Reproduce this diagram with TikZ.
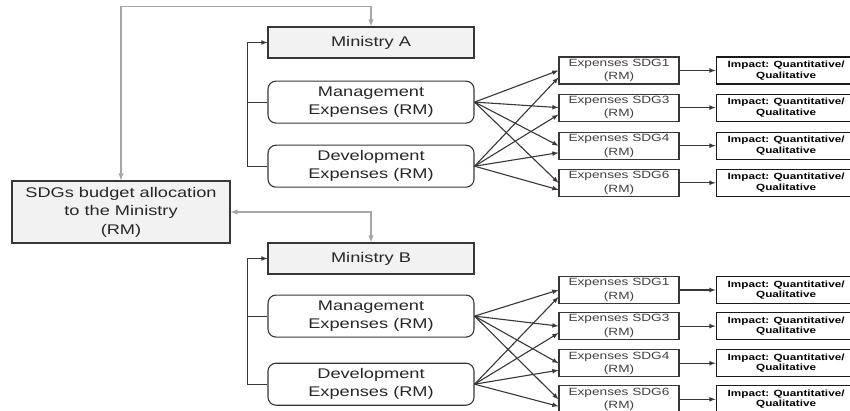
\documentclass[tikz,border=0pt]{standalone}
\usepackage{fontspec}
\setmainfont{Liberation Sans}[FakeStretch=1.3]
\usepackage{tikz}
\usetikzlibrary{arrows,positioning,calc}
\definecolor{boxline}{HTML}{3A3536}
\definecolor{boxfill}{HTML}{F2F2F2}
\definecolor{feedline}{HTML}{A6A6A6}

\begin{document}
\begin{tikzpicture}[x=1pt, y=1pt,
  ministry/.style={draw=boxline, fill=boxfill, line width=1.1pt, minimum width=206pt, minimum height=31pt, inner sep=0pt, align=center, text=black!85, font=\fontsize{14}{18.5}\selectfont},
  expense/.style={draw=boxline, line width=1.1pt, rounded corners=8pt, minimum width=206pt, minimum height=42pt, inner sep=0pt, align=center, text=black!85, font=\fontsize{14}{18}\selectfont},
  sdgbox/.style={draw=boxline, line width=1.1pt, minimum width=120pt, minimum height=27pt, inner sep=0pt, align=center, text=black!75, font=\fontsize{10.5}{13.5}\selectfont},
  impact/.style={draw=black!90, line width=1.1pt, minimum width=140pt, minimum height=27pt, inner sep=0pt, align=center, font=\bfseries\fontsize{9}{10.5}\selectfont},
  link/.style={draw=boxline, line width=1.1pt},
  feed/.style={draw=feedline, line width=1.4pt}]
\useasboundingbox (0,0) rectangle (850,-411);

\node [ministry, minimum width=218pt, minimum height=62pt] (alloc) at (121,-212) {SDGs budget allocation\\to the Ministry\\(RM)};

\node [ministry] (minA) at (371,-42.5) {Ministry A};
\node [expense] (manA) [below=22pt of minA] {Management\\Expenses (RM)};
\node [expense] (devA) [below=21pt of manA] {Development\\Expenses (RM)};
\node [sdgbox] (sdgA1) at (619,-70.5) {Expenses SDG1\\(RM)};
\node [sdgbox] (sdgA3) [below=9pt of sdgA1] {Expenses SDG3\\(RM)};
\node [sdgbox] (sdgA4) [below=10pt of sdgA3] {Expenses SDG4\\(RM)};
\node [sdgbox] (sdgA6) [below=9pt of sdgA4] {Expenses SDG6\\(RM)};
\node [impact] (impA1) [right=36pt of sdgA1] {Impact: Quantitative/\\Qualitative};
\node [impact] (impA3) [right=36pt of sdgA3] {Impact: Quantitative/\\Qualitative};
\node [impact] (impA4) [right=36pt of sdgA4] {Impact: Quantitative/\\Qualitative};
\node [impact] (impA6) [right=36pt of sdgA6] {Impact: Quantitative/\\Qualitative};

\node [ministry] (minB) at (371,-258.5) {Ministry B};
\node [expense] (manB) [below=20pt of minB] {Management\\Expenses (RM)};
\node [expense] (devB) [below=25pt of manB] {Development\\Expenses (RM)};
\node [sdgbox] (sdgB1) at (619,-290) {Expenses SDG1\\(RM)};
\node [sdgbox] (sdgB3) [below=8pt of sdgB1] {Expenses SDG3\\(RM)};
\node [sdgbox] (sdgB4) [below=9pt of sdgB3] {Expenses SDG4\\(RM)};
\node [sdgbox] (sdgB6) [below=8pt of sdgB4] {Expenses SDG6\\(RM)};
\node [impact] (impB1) [right=36pt of sdgB1] {Impact: Quantitative/\\Qualitative};
\node [impact] (impB3) [right=36pt of sdgB3] {Impact: Quantitative/\\Qualitative};
\node [impact] (impB4) [right=36pt of sdgB4] {Impact: Quantitative/\\Qualitative};
\node [impact] (impB6) [right=36pt of sdgB6] {Impact: Quantitative/\\Qualitative};

\draw [feed, latex-latex] (alloc.north) -- ++(0,174) -| (minA.north);
\draw [feed, latex-latex] (alloc.east) -| (minB.north);

\draw [link, -latex] (devA.west) -- ++(-20,0) |- (minA.west);
\draw [link] (manA.west) -- ++(-20,0);
\draw [link, -latex] (manA.east) to (sdgA1.west);
\draw [link, -latex] (manA.east) to (sdgA3.west);
\draw [link, -latex] (manA.east) to (sdgA4.west);
\draw [link, -latex] (manA.east) to (sdgA6.west);
\draw [link, -latex] (devA.east) to ([yshift=-7pt]sdgA1.west);
\draw [link, -latex] (devA.east) to ([yshift=-7pt]sdgA3.west);
\draw [link, -latex] (devA.east) to ([yshift=-7pt]sdgA4.west);
\draw [link, -latex] (devA.east) to ([yshift=-7pt]sdgA6.west);
\draw [link, -latex] (sdgA1) to (impA1);
\draw [link, -latex] (sdgA3) to (impA3);
\draw [link, -latex] (sdgA4) to (impA4);
\draw [link, -latex] (sdgA6) to (impA6);

\draw [link, -latex] (devB.west) -- ++(-20,0) |- (minB.west);
\draw [link] (manB.west) -- ++(-20,0);
\draw [link, -latex] (manB.east) to (sdgB1.west);
\draw [link, -latex] (manB.east) to (sdgB3.west);
\draw [link, -latex] (manB.east) to (sdgB4.west);
\draw [link, -latex] (manB.east) to (sdgB6.west);
\draw [link, -latex] (devB.east) to ([yshift=-7pt]sdgB1.west);
\draw [link, -latex] (devB.east) to ([yshift=-7pt]sdgB3.west);
\draw [link, -latex] (devB.east) to ([yshift=-7pt]sdgB4.west);
\draw [link, -latex] (devB.east) to ([yshift=-7pt]sdgB6.west);
\draw [link, -latex] (sdgB1) to (impB1);
\draw [link, -latex] (sdgB3) to (impB3);
\draw [link, -latex] (sdgB4) to (impB4);
\draw [link, -latex] (sdgB6) to (impB6);
\end{tikzpicture}
\end{document}
